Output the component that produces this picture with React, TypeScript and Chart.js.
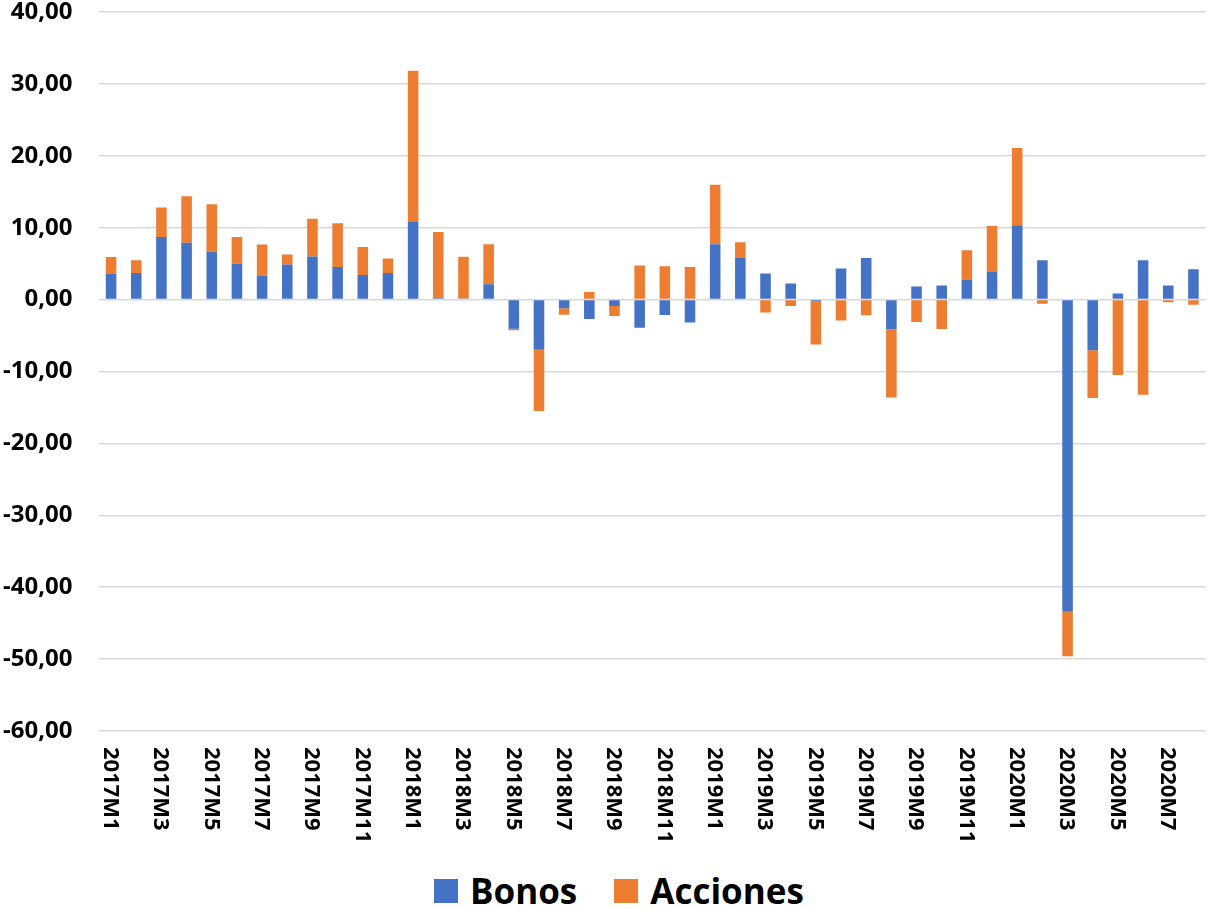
import React, { useEffect, useRef } from 'react';
import { Chart, registerables } from 'chart.js';

Chart.register(...registerables);

const categories = [
  '2017M1', '2017M2', '2017M3', '2017M4', '2017M5', '2017M6', '2017M7', '2017M8', '2017M9', '2017M10', '2017M11', '2017M12',
  '2018M1', '2018M2', '2018M3', '2018M4', '2018M5', '2018M6', '2018M7', '2018M8', '2018M9', '2018M10', '2018M11', '2018M12',
  '2019M1', '2019M2', '2019M3', '2019M4', '2019M5', '2019M6', '2019M7', '2019M8', '2019M9', '2019M10', '2019M11', '2019M12',
  '2020M1', '2020M2', '2020M3', '2020M4', '2020M5', '2020M6', '2020M7', '2020M8',
];

const shownTickLabels = [
  '2017M1', '2017M3', '2017M5', '2017M7', '2017M9', '2017M11',
  '2018M1', '2018M3', '2018M5', '2018M7', '2018M9', '2018M11',
  '2019M1', '2019M3', '2019M5', '2019M7', '2019M9', '2019M11',
  '2020M1', '2020M3', '2020M5', '2020M7',
];

const bonos = [
  3.62, 3.71, 8.72, 7.89, 6.64, 5.01, 3.34, 4.87, 5.99, 4.55, 3.43, 3.71,
  10.81, 0.2, 0.15, 2.13, -4.04, -6.96, -1.21, -2.69, -0.88, -3.9, -2.13, -3.2,
  7.7, 5.8, 3.62, 2.23, -0.28, 4.32, 5.8, -4.13, 1.81, 1.95, 2.78, 3.85,
  10.35, 5.48, -43.4, -7.05, 0.84, 5.48, 1.95, 4.22,
];

const acciones = [
  2.32, 1.77, 4.09, 6.5, 6.63, 3.71, 4.32, 1.39, 5.24, 6.08, 3.9, 2.0,
  21.02, 9.2, 5.8, 5.57, -0.23, -8.54, -0.88, 1.07, -1.39, 4.73, 4.64, 4.55,
  8.26, 2.18, -1.81, -0.88, -5.98, -2.92, -2.18, -9.47, -3.11, -4.08, 4.08, 6.4,
  10.72, -0.56, -6.2, -6.64, -10.49, -13.22, -0.37, -0.7,
];

const seriesNames = ['Bonos', 'Acciones'];
const seriesColors = ['#4472C4', '#ED7D31'];

const yMin = -60;
const yMax = 40;
const yStep = 10;

const FONT = '"Open Sans", "DejaVu Sans", sans-serif';

const xLabelPlugin = {
  id: 'rotatedXLabels',
  afterDraw(chart: any) {
    const { ctx, chartArea, scales } = chart;
    const xs = scales.x;
    ctx.save();
    ctx.fillStyle = '#000';
    ctx.font = `bold 22px ${FONT}`;
    ctx.textAlign = 'left';
    ctx.textBaseline = 'middle';
    categories.forEach((c, i) => {
      if (!shownTickLabels.includes(c)) return;
      const x = xs.getPixelForValue(i);
      ctx.save();
      ctx.translate(x - 1, chartArea.bottom + 16);
      ctx.rotate(Math.PI / 2);
      ctx.fillText(c, 0, 0);
      ctx.restore();
    });
    ctx.restore();
  },
};

export default function App() {
  const canvasRef = useRef<HTMLCanvasElement | null>(null);

  useEffect(() => {
    if (!canvasRef.current) return;
    const chart = new Chart(canvasRef.current, {
      type: 'bar',
      data: {
        labels: categories,
        datasets: [
          { label: seriesNames[0], data: bonos, backgroundColor: seriesColors[0], stack: 's' },
          { label: seriesNames[1], data: acciones, backgroundColor: seriesColors[1], stack: 's' },
        ],
      },
      options: {
        animation: false,
        responsive: true,
        maintainAspectRatio: false,
        datasets: { bar: { categoryPercentage: 1, barPercentage: 0.42 } },
        layout: { padding: { left: 0, right: 6, top: 0, bottom: 129 } },
        plugins: { legend: { display: false }, tooltip: { enabled: false } },
        scales: {
          x: {
            stacked: true,
            grid: { display: false, drawTicks: false },
            border: { display: false },
            ticks: { display: false },
          },
          y: {
            stacked: true,
            min: yMin,
            max: yMax,
            ticks: {
              stepSize: yStep,
              padding: 0,
              color: '#000',
              font: { family: FONT, size: 24, weight: 'bold', lineHeight: 1.0 },
              callback: (v: any) => Number(v).toFixed(2).replace('.', ','),
            },
            grid: { color: '#d9d9d9', lineWidth: 1.5, drawTicks: true, tickLength: 26, tickColor: 'rgba(0,0,0,0)' },
            border: { display: false },
            afterFit: (s: any) => {
              s.width = 98.5;
            },
          },
        },
      },
      plugins: [xLabelPlugin],
    } as any);
    return () => chart.destroy();
  }, []);

  return (
    <div style={{ position: 'absolute', left: 0, top: 0, width: 1212, height: 910, background: '#fff' }}>
      <div style={{ position: 'absolute', left: 0, top: 0, width: 1212, height: 860 }}>
        <canvas ref={canvasRef} />
      </div>
      <div
        style={{
          position: 'absolute',
          left: 434,
          top: 875,
          height: 32,
          display: 'flex',
          alignItems: 'center',
          fontFamily: FONT,
          fontWeight: 'bold',
          fontSize: 35,
          lineHeight: '32px',
          color: '#000',
        }}
      >
        {seriesNames.map((n, i) => (
          <div key={n} style={{ display: 'flex', alignItems: 'center', marginRight: i === 0 ? 37 : 0 }}>
            <span style={{ display: 'inline-block', width: 24, height: 24, background: seriesColors[i], marginRight: 12 }} />
            <span>{n}</span>
          </div>
        ))}
      </div>
    </div>
  );
}
